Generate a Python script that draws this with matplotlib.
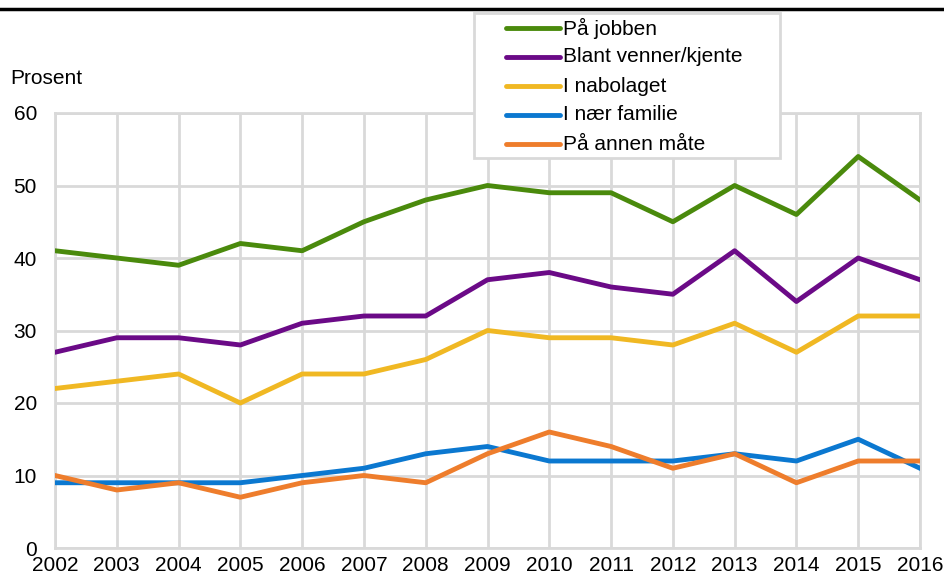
import matplotlib.pyplot as plt
from matplotlib.lines import Line2D
from matplotlib.patches import Rectangle

years = list(range(2002, 2017))
series_names = ['På jobben', 'Blant venner/kjente', 'I nabolaget', 'I nær familie', 'På annen måte']
jobben = [41, 40, 39, 42, 41, 45, 48, 50, 49, 49, 45, 50, 46, 54, 48]
venner = [27, 29, 29, 28, 31, 32, 32, 37, 38, 36, 35, 41, 34, 40, 37]
nabolaget = [22, 23, 24, 20, 24, 24, 26, 30, 29, 29, 28, 31, 27, 32, 32]
familie = [9, 9, 9, 9, 10, 11, 13, 14, 12, 12, 12, 13, 12, 15, 11]
annen = [10, 8, 9, 7, 9, 10, 9, 13, 16, 14, 11, 13, 9, 12, 12]
colors = ['#4a8a0c', '#6b0a87', '#f0b823', '#0b78d0', '#ee7d2c']

plt.rcParams['font.family'] = ['Liberation Sans', 'DejaVu Sans']
grid_col = '#d9d9d9'
W, H = 944, 575
fs = 15

fig = plt.figure(figsize=(W / 100, H / 100), dpi=100)
ax = fig.add_axes([55 / W, 1 - 548 / H, 865 / W, 435 / H])

for vals, name, c in zip([jobben, venner, nabolaget, familie, annen], series_names, colors):
    ax.plot(years, vals, color=c, lw=3.5, label=name, zorder=3)

ax.set_xlim(2002, 2016)
ax.set_ylim(0, 60)
ax.set_xticks(years)
ax.set_yticks(range(0, 61, 10))
ax.grid(True, color=grid_col, lw=2)
ax.set_axisbelow(True)
for s in ax.spines.values():
    s.set_color(grid_col)
    s.set_linewidth(2)
ax.tick_params(length=0, labelsize=fs, colors='black')
ax.tick_params(axis='x', pad=6)
ax.tick_params(axis='y', pad=13)
ax.get_yticklabels()[0].set_va('center_baseline')

fig.text(10 / W, 1 - 78 / H, 'Prosent', fontsize=fs, va='center', ha='left')

# black rule at the top (title above is cut off)
fig.add_artist(Line2D([0, 1], [1 - 9 / H, 1 - 9 / H], color='black', lw=2.5))

# legend box drawn by hand to match the reference placement
fig.add_artist(Rectangle((474 / W, 1 - 158 / H), 306 / W, 145 / H,
                         transform=fig.transFigure, facecolor='white',
                         edgecolor=grid_col, lw=2, zorder=5))
row_y = [28, 57, 86, 115, 144]
for name, c, ry in zip(series_names, colors, row_y):
    y = 1 - ry / H
    fig.add_artist(Line2D([506 / W, 560 / W], [y, y], color=c, lw=3.5,
                          solid_capstyle='round', zorder=6))
    fig.text(563 / W, y, name, fontsize=fs, va='center', ha='left', zorder=6)

plt.savefig('out.png', dpi=100)
